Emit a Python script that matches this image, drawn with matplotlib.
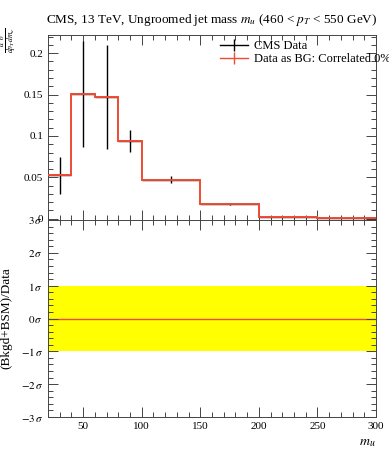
import matplotlib
matplotlib.use('Agg')
import matplotlib.pyplot as plt
from matplotlib.lines import Line2D
from matplotlib.ticker import MultipleLocator

plt.rcParams['font.family'] = ['Liberation Serif', 'DejaVu Serif']
plt.rcParams['mathtext.fontset'] = 'stix'

# bin edges in m_u and the measured values
edges = [20, 40, 60, 80, 100, 150, 200, 250, 300]
cms_vals = [0.0524, 0.1505, 0.1469, 0.0942, 0.0472, 0.0180, 0.0027, 0.0006]
cms_errs = [0.0225, 0.0640, 0.0630, 0.0135, 0.0040, 0.0010, 0.0004, 0.0002]
bg_vals = [0.0524, 0.1505, 0.1469, 0.0942, 0.0472, 0.0180, 0.0027, 0.0006]
pull = [0, 0, 0, 0, 0, 0, 0, 0]

sigma_ticks = [-3, -2, -1, 0, 1, 2, 3]
sigma_labels = [r'$-3\,\sigma$', r'$-2\,\sigma$', r'$-1\,\sigma$', r'$0\,\sigma$',
                r'$1\,\sigma$', r'$2\,\sigma$', r'$3\,\sigma$']

red = '#ee4b33'
centers = [(a + b) / 2 for a, b in zip(edges[:-1], edges[1:])]
halfw = [(b - a) / 2 for a, b in zip(edges[:-1], edges[1:])]

fig = plt.figure(figsize=(3.89, 4.5), dpi=100)
ax = fig.add_axes([48 / 389, 230 / 450, 328 / 389, 185 / 450])
axr = fig.add_axes([48 / 389, 33 / 450, 328 / 389, 197 / 450])


def style(a):
    a.tick_params(which='both', direction='in', top=True, right=True,
                  color='#444444', width=0.7, labelsize=8)
    a.tick_params(which='major', length=7)
    a.tick_params(which='minor', length=3.5)
    for s in a.spines.values():
        s.set_linewidth(0.7)
        s.set_color('#444444')


# top panel
ax.errorbar(centers, cms_vals, yerr=cms_errs, xerr=halfw, fmt='none',
            ecolor='black', elinewidth=1.0, zorder=2)
ax.stairs(bg_vals, edges, baseline=None, color=red, linewidth=1.4, zorder=3)
ax.set_xlim(20, 300)
ax.set_ylim(-0.0015, 0.222)
ax.set_yticks([0, 0.05, 0.1, 0.15, 0.2])
ax.set_yticklabels(['0', '0.05', '0.1', '0.15', '0.2'])
ax.yaxis.set_minor_locator(MultipleLocator(0.01))
ax.xaxis.set_major_locator(MultipleLocator(50))
ax.xaxis.set_minor_locator(MultipleLocator(10))
ax.tick_params(labelbottom=False)
style(ax)
ax.set_ylabel(r'$\frac{d^2\sigma}{dp_T dm_u}$', fontsize=8, loc='top')
ax.yaxis.set_label_coords(-0.088, 1.04)
ax.set_title(r'CMS, 13 TeV, Ungroomed jet mass $m_u$ (460 < $p_T$ < 550 GeV)',
             fontsize=9.5, loc='left', x=-0.005, pad=9)

handles = [Line2D([], [], color='black', lw=1.0, marker='|', markersize=9),
           Line2D([], [], color=red, lw=1.0, marker='|', markersize=9)]
ax.legend(handles, ['CMS Data', 'Data as BG: Correlated 0%'],
          loc='upper left', bbox_to_anchor=(0.51, 1.0), frameon=False,
          fontsize=9, handlelength=2.2, handletextpad=0.5,
          labelspacing=0.08, borderaxespad=0)

# ratio panel
axr.fill_between([edges[0], edges[-1]], -1, 1, color='#ffff00', linewidth=0)
axr.stairs(pull, edges, baseline=None, color=red, linewidth=1.0)
axr.set_xlim(20, 300)
axr.set_ylim(-3, 3)
axr.set_yticks(sigma_ticks)
axr.set_yticklabels(sigma_labels)
axr.yaxis.set_minor_locator(MultipleLocator(0.2))
axr.xaxis.set_major_locator(MultipleLocator(50))
axr.xaxis.set_minor_locator(MultipleLocator(10))
style(axr)
axr.set_ylabel('(Bkgd+BSM)/Data', fontsize=9.5)
axr.yaxis.set_label_coords(-0.11, 0.5)
axr.set_xlabel(r'$m_u$', fontsize=10, loc='right')

fig.savefig('out.png', dpi=100)
